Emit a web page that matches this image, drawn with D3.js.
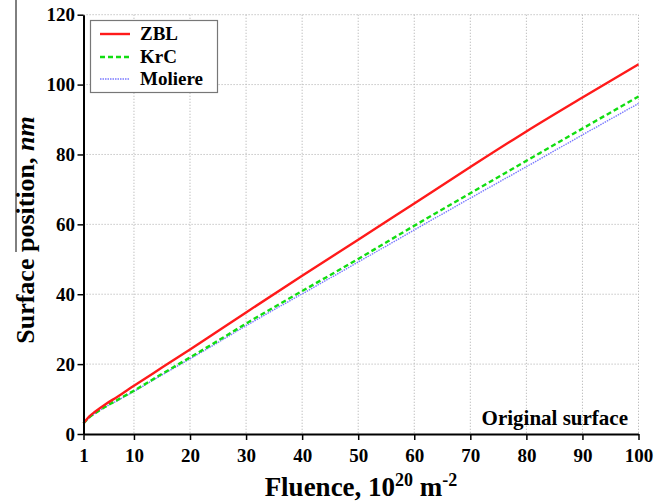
<!DOCTYPE html>
<html>
<head>
<meta charset="utf-8">
<script src="https://cdn.jsdelivr.net/npm/d3@7"></script>
<style>
  html, body { margin: 0; padding: 0; background: #fff; }
  svg { display: block; }
  text { font-family: "Liberation Serif", "Times New Roman", serif; font-weight: bold; fill: #000; }
</style>
</head>
<body>
<svg id="chart" width="670" height="504"></svg>
<script>
// ---- data ----
const fluence = [1, 2, 3, 5, 7, 10, 15, 20, 25, 30, 40, 50, 60, 70, 80, 90, 100];
const zbl     = [3.1, 5.0, 6.3, 8.6, 10.6, 13.8, 19.0, 24.2, 29.5, 34.8, 45.3, 55.6, 66.0, 76.4, 86.6, 96.3, 105.8];
const krc     = [3.0, 4.7, 5.9, 7.9, 9.7, 12.4, 17.2, 21.9, 26.7, 31.6, 40.9, 50.1, 59.6, 68.9, 78.2, 87.4, 96.6];
const moliere = [2.9, 4.6, 5.8, 7.8, 9.5, 12.2, 16.9, 21.5, 26.2, 31.0, 40.1, 49.2, 58.4, 67.5, 76.5, 85.6, 94.6];
const seriesNames = ["ZBL", "KrC", "Moliere"];
const xTicks = [1, 10, 20, 30, 40, 50, 60, 70, 80, 90, 100];
const yTicks = [0, 20, 40, 60, 80, 100, 120];

const styles = {
  "ZBL":     { color: "#ff1a1a", width: 2.4, dash: null },
  "KrC":     { color: "#11dd11", width: 2.4, dash: "5,3" },
  "Moliere": { color: "#7a7aff", width: 1.4, dash: "1.5,1" }
};
const seriesData = { "ZBL": zbl, "KrC": krc, "Moliere": moliere };

const svg = d3.select("#chart");
const pLeft = 83.5, pRight = 638.5, pTop = 14.7, pBottom = 434;
const x = d3.scaleLinear().domain([1, 100]).range([pLeft, pRight]);
const y = d3.scaleLinear().domain([0, 120]).range([pBottom, pTop]);

// grid
const grid = svg.append("g");
grid.selectAll("line.vg").data(xTicks.filter(d => d !== 1)).join("line")
  .attr("x1", d => x(d)).attr("x2", d => x(d)).attr("y1", pTop).attr("y2", pBottom)
  .attr("stroke", "#b8b8b8").attr("stroke-width", 1).attr("stroke-dasharray", "1.2,1.8");
grid.selectAll("line.hg").data(yTicks.filter(d => d !== 0)).join("line")
  .attr("x1", pLeft).attr("x2", pRight).attr("y1", d => y(d)).attr("y2", d => y(d))
  .attr("stroke", "#b8b8b8").attr("stroke-width", 1).attr("stroke-dasharray", "1.2,1.8");

// lines
const line = d3.line().x(d => x(d[0])).y(d => y(d[1])).curve(d3.curveMonotoneX);
seriesNames.slice().reverse().forEach(name => {
  const s = styles[name];
  svg.append("path")
    .datum(fluence.map((f, i) => [f, seriesData[name][i]]))
    .attr("d", line)
    .attr("fill", "none")
    .attr("stroke", s.color)
    .attr("stroke-width", s.width)
    .attr("stroke-dasharray", s.dash);
});

// axes
const xAxis = d3.axisBottom(x).tickValues(xTicks).tickSize(6).tickSizeOuter(0).tickFormat(d3.format("d"));
const gx = svg.append("g").attr("transform", `translate(0,${pBottom})`).call(xAxis);
gx.select(".domain").attr("stroke", "#000").attr("stroke-width", 2);
gx.selectAll(".tick line").attr("stroke", "#000").attr("stroke-width", 1.5);
gx.selectAll(".tick text").attr("font-size", 19).attr("font-family", "Liberation Serif").attr("font-weight", "bold")
  .attr("fill", "#000").attr("dy", null).attr("y", 28);

const yAxis = d3.axisLeft(y).tickValues(yTicks).tickSize(6).tickSizeOuter(0);
const gy = svg.append("g").attr("transform", `translate(${pLeft},0)`).call(yAxis);
gy.select(".domain").attr("stroke", "#000").attr("stroke-width", 2);
gy.selectAll(".tick line").attr("stroke", "#000").attr("stroke-width", 1.5);
gy.selectAll(".tick text").attr("font-size", 19).attr("font-family", "Liberation Serif").attr("font-weight", "bold")
  .attr("fill", "#000").attr("x", -8.5).attr("dy", "0.33em");

// axis titles
const xt = svg.append("text").attr("x", 361).attr("y", 496).attr("text-anchor", "middle").attr("font-size", 27);
xt.append("tspan").text("Fluence, 10");
xt.append("tspan").attr("font-size", 18).attr("dy", -10).text("20");
xt.append("tspan").attr("dy", 10).text(" m");
xt.append("tspan").attr("font-size", 18).attr("dy", -10).text("-2");

const yt = svg.append("text").attr("transform", "translate(34,230) rotate(-90)")
  .attr("text-anchor", "middle").attr("font-size", 26);
yt.append("tspan").text("Surface position, ");
yt.append("tspan").attr("font-style", "italic").text("nm");

// stray vertical line in original image
svg.append("line").attr("x1", 16).attr("x2", 16).attr("y1", 0).attr("y2", 252)
  .attr("stroke", "#000").attr("stroke-width", 1);

// annotation
svg.append("text").attr("x", 628).attr("y", 425).attr("text-anchor", "end").attr("font-size", 21)
  .text("Original surface");

// legend
const lg = svg.append("g");
lg.append("rect").attr("x", 90.5).attr("y", 20.5).attr("width", 127).attr("height", 72)
  .attr("fill", "#fff").attr("stroke", "#777").attr("stroke-width", 1.2);
const legendY = [34, 57, 79];
seriesNames.forEach((name, i) => {
  const s = styles[name];
  lg.append("line").attr("x1", 100).attr("x2", 130).attr("y1", legendY[i]).attr("y2", legendY[i])
    .attr("stroke", s.color).attr("stroke-width", s.width).attr("stroke-dasharray", s.dash);
  lg.append("text").attr("x", 140).attr("y", legendY[i]).attr("dy", "0.33em").attr("font-size", 19).text(name);
});
</script>
</body>
</html>
